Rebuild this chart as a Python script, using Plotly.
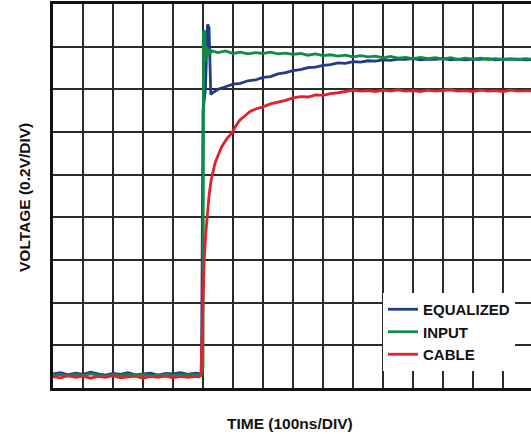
import plotly.graph_objects as go

# Time in divisions (100 ns/div), voltage in divisions (0.2 V/div)
base_x = [0.0, 0.25, 0.5, 0.75, 1.0, 1.25, 1.5, 1.75, 2.0, 2.25, 2.5, 2.75,
          3.0, 3.25, 3.5, 3.75, 4.0, 4.25, 4.5, 4.75]

eq_base = [0.33, 0.36, 0.31, 0.35, 0.32, 0.37, 0.33, 0.30, 0.34, 0.32, 0.36, 0.31,
           0.33, 0.35, 0.30, 0.34, 0.33, 0.36, 0.32, 0.35]
in_base = [0.30, 0.32, 0.28, 0.31, 0.29, 0.33, 0.30, 0.28, 0.31, 0.29, 0.32, 0.30,
           0.31, 0.29, 0.30, 0.32, 0.29, 0.31, 0.30, 0.31]
cb_base = [0.27, 0.24, 0.29, 0.25, 0.28, 0.23, 0.27, 0.25, 0.29, 0.24, 0.26, 0.28,
           0.23, 0.27, 0.25, 0.28, 0.24, 0.27, 0.25, 0.27]

eq_step_x = [4.95, 5.0, 5.08, 5.15, 5.2, 5.26, 5.32, 5.5, 5.75, 6.0, 6.25, 6.5, 6.75,
             7.0, 7.25, 7.5, 7.75, 8.0, 8.25, 8.5, 8.75, 9.0, 9.25, 9.5, 9.75, 10.0,
             10.25, 10.5, 10.75, 11.0, 11.25, 11.5, 11.75, 12.0, 12.25, 12.5, 12.75,
             13.0, 13.25, 13.5, 13.75, 14.0, 14.25, 14.5, 14.75, 15.0, 15.25, 15.5,
             15.75, 16.0]
eq_step_y = [0.33, 6.5, 7.0, 8.52, 8.45, 6.88, 6.92, 7.00, 7.06, 7.12, 7.14, 7.20, 7.22,
             7.28, 7.30, 7.36, 7.39, 7.44, 7.46, 7.51, 7.52, 7.56, 7.58, 7.62, 7.61, 7.65,
             7.64, 7.67, 7.66, 7.69, 7.68, 7.71, 7.70, 7.72, 7.69, 7.71, 7.70,
             7.72, 7.69, 7.71, 7.69, 7.71, 7.70, 7.72, 7.69, 7.71, 7.70, 7.71,
             7.69, 7.70]

in_step_x = [4.95, 5.0, 5.02, 5.06, 5.08, 5.11, 5.14, 5.18, 5.23, 5.3, 5.5, 5.75, 6.0,
             6.25, 6.5, 6.75, 7.0, 7.25, 7.5, 7.75, 8.0, 8.25, 8.5, 8.75, 9.0, 9.25,
             9.5, 9.75, 10.0, 10.25, 10.5, 10.75, 11.0, 11.25, 11.5, 11.75, 12.0, 12.25,
             12.5, 12.75, 13.0, 13.25, 13.5, 13.75, 14.0, 14.25, 14.5, 14.75, 15.0,
             15.25, 15.5, 15.75, 16.0]
in_step_y = [0.30, 0.5, 8.38, 8.35, 7.65, 8.0, 7.75, 7.95, 7.82, 7.90, 7.86, 7.90, 7.84,
             7.87, 7.83, 7.86, 7.84, 7.87, 7.83, 7.85, 7.82, 7.84, 7.80, 7.83, 7.79, 7.81,
             7.78, 7.80, 7.76, 7.79, 7.76, 7.78, 7.74, 7.77, 7.73, 7.75, 7.72, 7.75,
             7.72, 7.74, 7.71, 7.74, 7.70, 7.73, 7.71, 7.73, 7.70, 7.72, 7.70,
             7.72, 7.70, 7.72, 7.70]

cb_step_x = [4.85, 4.93, 4.96, 4.99, 5.04, 5.09, 5.14, 5.2, 5.27, 5.4, 5.5, 5.62, 5.8,
             5.96, 6.1, 6.23, 6.4, 6.57, 6.75, 7.0, 7.25, 7.5, 7.75, 8.0, 8.25, 8.5,
             8.75, 9.0, 9.25, 9.5, 9.75, 10.0, 10.25, 10.5, 10.75, 11.0, 11.25, 11.5,
             11.75, 12.0, 12.25, 12.5, 12.75, 13.0, 13.25, 13.5, 13.75, 14.0, 14.25,
             14.5, 14.75, 15.0, 15.25, 15.5, 15.75, 16.0]
cb_step_y = [0.26, 0.30, 1.0, 1.76, 3.0, 3.6, 4.1, 4.5, 4.87, 5.27, 5.45, 5.65, 5.85,
             5.97, 6.15, 6.28, 6.38, 6.48, 6.54, 6.59, 6.66, 6.70, 6.74, 6.80, 6.83, 6.82,
             6.87, 6.86, 6.90, 6.92, 6.95, 6.98, 6.96, 6.97, 6.95, 6.98, 6.96, 6.99,
             6.96, 6.97, 6.95, 6.98, 6.96, 6.97, 6.99, 6.96, 6.97, 6.95, 6.98,
             6.96, 6.97, 6.95, 6.98, 6.96, 6.97, 6.96]

series_names = ["EQUALIZED", "INPUT", "CABLE"]
series_colors = ["#233a8a", "#128a45", "#e3202e"]

xs = [base_x + eq_step_x, base_x + in_step_x, base_x + cb_step_x]
ys = [eq_base + eq_step_y, in_base + in_step_y, cb_base + cb_step_y]

W, H = 531, 434
L, T, B = 53, 4, 46
plot_w = W - L
col_px = 30.0

fig = go.Figure()
for name, color, x, y in zip(series_names, series_colors, xs, ys):
    fig.add_trace(go.Scatter(x=x, y=y, mode="lines", name=name,
                             line=dict(color=color, width=2.8)))

font_family = "Liberation Sans, Arial, sans-serif"

fig.update_layout(
    width=W, height=H,
    margin=dict(l=L, r=0, t=T, b=B, pad=0),
    paper_bgcolor="white", plot_bgcolor="white",
    showlegend=True,
    legend=dict(x=(383 - L) / plot_w, y=(388 - 293) / (388 - T),
                xanchor="left", yanchor="top",
                bgcolor="white", borderwidth=0,
                font=dict(family=font_family, size=15, color="#111", weight="bold"),
                itemwidth=30, tracegroupgap=0),
    xaxis=dict(range=[0, plot_w / col_px], dtick=1, tick0=0,
               showgrid=True, gridcolor="#2a2a2a", gridwidth=1.8,
               zeroline=False, showticklabels=False, ticks="",
               showline=True, mirror=True, linecolor="#111", linewidth=2.5),
    yaxis=dict(range=[0, 9], dtick=1, tick0=0,
               showgrid=True, gridcolor="#2a2a2a", gridwidth=1.8,
               zeroline=False, showticklabels=False, ticks="",
               showline=True, mirror=False, linecolor="#111", linewidth=2.5),
    annotations=[
        dict(text="VOLTAGE (0.2V/DIV)", xref="paper", yref="paper",
             x=(25 - L) / plot_w, y=(388 - 198) / (388 - T),
             xanchor="center", yanchor="middle", textangle=-90, showarrow=False,
             font=dict(family=font_family, size=15.5, color="#111", weight="bold")),
        dict(text="TIME (100ns/DIV)", xref="paper", yref="paper",
             x=(290 - L) / plot_w, y=(388 - 423) / (388 - T),
             xanchor="center", yanchor="middle", showarrow=False,
             font=dict(family=font_family, size=15.5, color="#111", weight="bold")),
    ],
)

fig.write_html("out.html")
